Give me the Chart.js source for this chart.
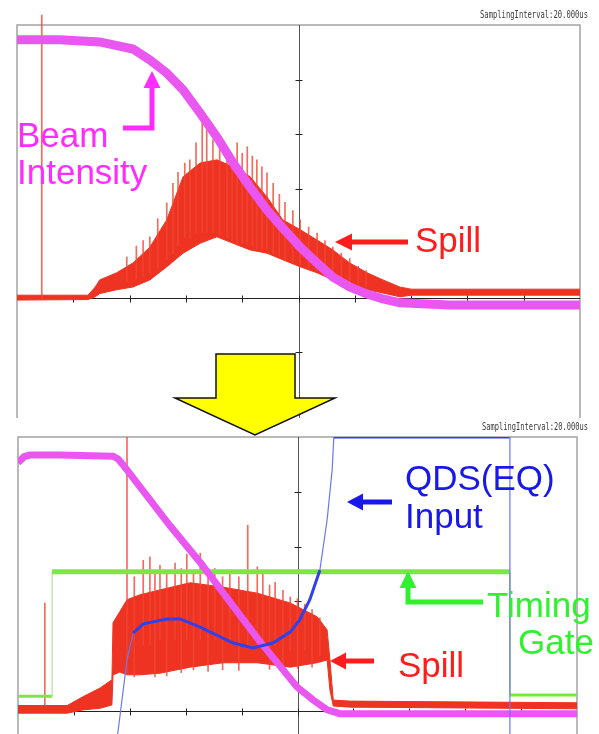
<!DOCTYPE html>
<html>
<head>
<meta charset="utf-8">
<script src="https://cdn.jsdelivr.net/npm/chart.js@4.4.1/dist/chart.umd.min.js"></script>
<style>
  html, body { margin: 0; padding: 0; background: #fff; }
  #wrap { position: relative; width: 599px; height: 734px; overflow: hidden; }
  canvas { position: absolute; left: 0; }
  #scopeTop { top: 0; }
  #scopeLow { top: 418px; }
</style>
</head>
<body>
<div id="wrap">
  <canvas id="scopeTop" width="599" height="418"></canvas>
  <canvas id="scopeLow" width="599" height="316"></canvas>
</div>
<script>
// all values in scope divisions (x: 0..10, y: centre line = 0)

// upper scope: before
const beamTopX = [0, 0.76, 1.47, 2.06, 2.36, 2.66, 2.95, 3.25, 3.55, 3.84, 4.14, 4.44, 4.72, 5.03, 5.33, 5.61, 5.91, 6.22, 6.50, 6.80, 7.69, 8.93, 10];
const beamTopY = [4.73, 4.73, 4.69, 4.56, 4.36, 4.12, 3.81, 3.39, 2.95, 2.47, 2.03, 1.61, 1.28, 0.93, 0.64, 0.38, 0.20, 0.07, -0.02, -0.09, -0.13, -0.13, -0.13];

const spillTopX  = [0, 1.26, 1.39, 1.47, 1.77, 2.06, 2.36, 2.66, 2.95, 3.25, 3.55, 3.84, 4.14, 4.44, 4.72, 5.03, 5.33, 5.61, 5.91, 6.22, 6.50, 6.80, 7.0, 10];
const spillTopHi = [0.05, 0.05, 0.2, 0.33, 0.46, 0.64, 0.93, 1.43, 2.22, 2.47, 2.53, 2.4, 2.22, 1.85, 1.43, 1.25, 1.06, 0.88, 0.64, 0.46, 0.33, 0.2, 0.16, 0.16];
const spillTopLo = [-0.04, -0.03, 0.02, 0.08, 0.15, 0.2, 0.33, 0.57, 0.82, 1.0, 1.12, 1.0, 0.88, 0.82, 0.7, 0.57, 0.46, 0.33, 0.2, 0.15, 0.09, 0.02, 0.05, 0.05];

const spikeTopX  = [0.44, 1.95, 2.12, 2.24, 2.36, 2.50, 2.66, 2.77, 2.86, 2.98, 3.07, 3.18, 3.29, 3.37, 3.48, 3.60, 3.73, 3.82, 3.91, 4.00, 4.09, 4.18, 4.26, 4.35, 4.44, 4.55, 4.66, 4.76, 4.90, 5.03, 5.18, 5.33, 5.47, 5.61, 5.76, 5.91, 6.06, 6.20];
const spikeTopLo = [0.0, 0.3, 0.35, 0.4, 0.45, 0.55, 0.7, 0.8, 0.95, 1.1, 1.1, 1.2, 1.2, 1.2, 1.2, 1.15, 1.1, 1.05, 1.0, 1.0, 1.0, 0.95, 0.9, 0.9, 0.9, 0.8, 0.75, 0.7, 0.65, 0.6, 0.55, 0.5, 0.45, 0.4, 0.35, 0.3, 0.25, 0.2];
const spikeTopHi = [5.18, 0.75, 0.95, 1.05, 1.12, 1.45, 1.74, 2.1, 2.3, 2.47, 2.53, 2.84, 3.26, 3.08, 2.9, 2.75, 2.71, 2.6, 2.84, 2.65, 2.77, 2.6, 2.53, 2.4, 2.29, 2.1, 1.9, 1.75, 1.6, 1.43, 1.3, 1.19, 1.05, 0.93, 0.82, 0.72, 0.58, 0.5];

// lower scope: after (with QDS input and timing gate)
const beamLowX = [0, 0.11, 0.21, 0.75, 1.70, 1.79, 1.88, 2.72, 3.26, 4.28, 4.99, 5.28, 5.53, 5.76, 10];
const beamLowY = [4.53, 4.64, 4.67, 4.67, 4.65, 4.6, 4.49, 3.38, 2.71, 1.33, 0.44, 0.2, 0.02, -0.05, -0.05];

const gateX = [0, 0.61, 0.61, 8.80, 8.80, 10];
const gateY = [0.27, 0.27, 2.54, 2.54, 0.29, 0.29];

const qdsX = [1.77, 1.86, 1.95, 2.06, 2.24, 2.67, 2.90, 3.26, 3.85, 4.20, 4.56, 4.87, 5.04, 5.22, 5.40, 5.53, 5.62, 5.65, 8.80, 8.80];
const qdsY = [-0.53, 0.2, 0.93, 1.42, 1.59, 1.68, 1.68, 1.53, 1.24, 1.15, 1.24, 1.44, 1.66, 2.03, 2.57, 3.49, 4.4, 5.0, 5.0, -0.53];

const spillLowX  = [0, 0.88, 1.16, 1.47, 1.68, 1.70, 1.82, 1.95, 2.18, 2.54, 3.08, 3.67, 4.28, 4.87, 5.35, 5.53, 5.58, 5.64, 5.94, 10];
const spillLowHi = [0.1, 0.1, 0.26, 0.42, 0.57, 1.61, 1.81, 2.03, 2.12, 2.21, 2.34, 2.26, 2.15, 1.97, 1.72, 1.48, 0.93, 0.2, 0.18, 0.15];
const spillLowLo = [-0.04, -0.04, 0.02, 0.05, 0.11, 0.66, 0.71, 0.66, 0.66, 0.69, 0.8, 0.88, 0.88, 0.8, 0.88, 0.93, 0.38, 0.09, 0.07, 0.04];

const spikeLowX  = [0.48, 1.95, 2.08, 2.24, 2.36, 2.45, 2.54, 2.66, 2.81, 2.92, 3.02, 3.14, 3.26, 3.40, 3.52, 3.66, 3.79, 3.95, 4.11, 4.28, 4.38, 4.50, 4.60, 4.74, 4.87, 5.00, 5.13, 5.26, 5.40];
const spikeLowLo = [0.1, 0.7, 0.62, 1.2, 1.2, 0.62, 1.3, 0.64, 1.3, 0.7, 1.3, 0.75, 1.3, 0.72, 1.3, 0.75, 1.3, 0.74, 1.2, 1.2, 1.2, 0.76, 1.2, 0.75, 1.1, 0.78, 1.1, 0.8, 1.0];
const spikeLowHi = [1.97, 5.0, 2.45, 2.75, 2.81, 2.5, 2.66, 2.55, 2.7, 2.6, 2.86, 2.55, 2.88, 2.5, 2.6, 2.45, 2.5, 2.45, 3.39, 2.63, 2.52, 2.3, 2.35, 2.2, 2.08, 2.05, 1.95, 1.85, 1.7];

const samplingText = 'SamplingInterval:20.000us';

const MAG = '#e957f0', MAG_TXT = '#ff2bff';
const RED = '#ee3322', RED_TXT = '#ff1c1c';
const BLUE = '#3040ea', BLUE_TXT = '#1818e8';
const GREEN = '#7be83c', GREEN_TXT = '#30f030';
const FONT = '35px "Liberation Sans", Arial, sans-serif';

const pts = (xs, ys) => xs.map((x, i) => ({ x: x, y: ys[i] }));
const bars = (xs, lo, hi) => xs.map((x, i) => ({ x: x, y: [lo[i], hi[i]] }));

// notes are in page pixels, each canvas draws the part that falls on it
const notes = [
  { text: 'Beam', x: 17, y: 147, color: MAG_TXT },
  { text: 'Intensity', x: 17, y: 184, color: MAG_TXT },
  { arrow: [[123, 128], [152, 128], [152, 88]], tip: [152, 71], color: MAG_TXT },
  { text: 'Spill', x: 415, y: 252, color: RED_TXT },
  { arrow: [[408, 242], [352, 242]], tip: [335, 242], color: RED_TXT },
  { small: samplingText, x: 480, y: 18, w: 108 },
  { text: 'QDS(EQ)', x: 405, y: 490, color: BLUE_TXT },
  { text: 'Input', x: 405, y: 528, color: BLUE_TXT },
  { arrow: [[392, 502], [363, 502]], tip: [347, 502], color: BLUE_TXT },
  { text: 'Timing', x: 487, y: 617, color: GREEN_TXT },
  { text: 'Gate', x: 518, y: 654, color: GREEN_TXT },
  { arrow: [[483, 602], [408, 602], [408, 588]], tip: [408, 571], color: GREEN_TXT },
  { text: 'Spill', x: 398, y: 677, color: RED_TXT },
  { arrow: [[374, 661], [346, 661]], tip: [330, 661], color: RED_TXT },
  { small: samplingText, x: 482, y: 430, w: 106 },
  { poly: [[216, 354], [295, 354], [295, 398], [335, 398], [255, 435], [175, 398], [216, 398]] }
];

const framePlugin = {
  id: 'frame',
  beforeDatasetsDraw(chart) {
    const { ctx, chartArea: a, scales: { x, y } } = chart;
    const cx = Math.round(x.getPixelForValue(5)) + 0.5;
    const cy = Math.round(y.getPixelForValue(0)) + 0.5;
    ctx.save();
    ctx.strokeStyle = '#a3a3a3';
    ctx.lineWidth = 1.5;
    ctx.beginPath();
    ctx.moveTo(a.left, a.bottom);
    ctx.lineTo(a.left, a.top);
    ctx.lineTo(a.right, a.top);
    ctx.lineTo(a.right, a.bottom);
    ctx.stroke();
    ctx.lineWidth = 1;
    ctx.strokeStyle = '#555';
    ctx.beginPath();
    ctx.moveTo(cx, a.top);
    ctx.lineTo(cx, a.bottom);
    ctx.stroke();
    ctx.strokeStyle = '#222';
    ctx.beginPath();
    ctx.moveTo(a.left, cy);
    ctx.lineTo(a.right, cy);
    for (let i = 1; i < 10; i++) {
      const px = Math.round(x.getPixelForValue(i)) + 0.5;
      ctx.moveTo(px, cy - 3);
      ctx.lineTo(px, cy + 4);
    }
    for (let j = Math.ceil(y.min); j < 5; j++) {
      if (j === 0) continue;
      const py = Math.round(y.getPixelForValue(j)) + 0.5;
      ctx.moveTo(cx - 4, py);
      ctx.lineTo(cx + 3, py);
    }
    ctx.stroke();
    ctx.restore();
  }
};

function drawArrow(ctx, n) {
  const p = n.arrow, last = p[p.length - 1];
  ctx.strokeStyle = n.color;
  ctx.fillStyle = n.color;
  ctx.lineWidth = 5;
  ctx.lineJoin = 'miter';
  ctx.beginPath();
  ctx.moveTo(p[0][0], p[0][1]);
  for (let i = 1; i < p.length; i++) ctx.lineTo(p[i][0], p[i][1]);
  ctx.stroke();
  const dx = n.tip[0] - last[0], dy = n.tip[1] - last[1];
  const len = Math.hypot(dx, dy), ux = -dy / len * 8.5, uy = dx / len * 8.5;
  ctx.beginPath();
  ctx.moveTo(n.tip[0], n.tip[1]);
  ctx.lineTo(last[0] + ux, last[1] + uy);
  ctx.lineTo(last[0] - ux, last[1] - uy);
  ctx.closePath();
  ctx.fill();
}

const notesPlugin = {
  id: 'notes',
  afterDraw(chart, args, opts) {
    const ctx = chart.ctx;
    ctx.save();
    ctx.translate(0, -opts.top);
    notes.forEach(n => {
      if (n.text) {
        ctx.font = FONT;
        ctx.fillStyle = n.color;
        ctx.textBaseline = 'alphabetic';
        ctx.fillText(n.text, n.x, n.y);
      } else if (n.small) {
        ctx.font = '11px "DejaVu Sans Mono", monospace';
        ctx.fillStyle = '#3a3a3a';
        ctx.textBaseline = 'alphabetic';
        ctx.fillText(n.small, n.x, n.y, n.w);
      } else if (n.arrow) {
        drawArrow(ctx, n);
      } else if (n.poly) {
        ctx.beginPath();
        n.poly.forEach((q, i) => i ? ctx.lineTo(q[0], q[1]) : ctx.moveTo(q[0], q[1]));
        ctx.closePath();
        ctx.fillStyle = '#ffff00';
        ctx.fill();
        ctx.strokeStyle = '#111';
        ctx.lineWidth = 1.5;
        ctx.stroke();
      }
    });
    ctx.restore();
  }
};

function line(data, color, width, order, extra) {
  return Object.assign({
    type: 'line', data: data, borderColor: color, backgroundColor: color,
    borderWidth: width, pointRadius: 0, tension: 0, fill: false, order: order
  }, extra || {});
}

function spikes(data, order, extra) {
  return Object.assign({
    type: 'bar', data: data, backgroundColor: 'rgba(240, 70, 50, 0.8)', barThickness: 1,
    grouped: false, order: order
  }, extra || {});
}

function makeScope(id, top, yMin, pad, datasets) {
  return new Chart(document.getElementById(id), {
    type: 'line',
    data: { datasets: datasets },
    options: {
      responsive: false,
      animation: false,
      devicePixelRatio: 1,
      layout: { padding: pad },
      plugins: { legend: { display: false }, tooltip: { enabled: false }, notes: { top: top } },
      scales: {
        x: { type: 'linear', min: 0, max: 10, offset: false, display: false },
        y: { type: 'linear', min: yMin, max: 5, display: false }
      }
    },
    plugins: [framePlugin, notesPlugin]
  });
}

makeScope('scopeTop', 0, -2.2, { left: 17, right: 19, top: 25, bottom: 0 }, [
  line(pts(spillTopX, spillTopHi), RED, 1, 6, { fill: '+1' }),
  line(pts(spillTopX, spillTopLo), RED, 1, 6),
  spikes(bars(spikeTopX, spikeTopLo, spikeTopHi), 5, { clip: false }),
  line(pts(beamTopX, beamTopY), MAG, 9, 2)
]);

makeScope('scopeLow', 418, -0.42, { left: 18, right: 22, top: 19, bottom: 0 }, [
  line(pts(spillLowX, spillLowHi), RED, 1, 6, { fill: '+1' }),
  line(pts(spillLowX, spillLowLo), RED, 1, 6),
  spikes(bars(spikeLowX, spikeLowLo, spikeLowHi), 5),
  line(pts(gateX, gateY), GREEN, 5, 3, {
    segment: {
      borderWidth: c => c.p0.parsed.x === c.p1.parsed.x ? 1 : (c.p0.parsed.y > 1 ? 5 : 3),
      borderColor: c => c.p0.parsed.x === c.p1.parsed.x ? '#a6d890' : GREEN
    }
  }),
  line(pts(beamLowX, beamLowY), MAG, 7, 2),
  line(pts(qdsX, qdsY), BLUE, 3, 1, {
    segment: {
      borderWidth: c => Math.abs(c.p1.y - c.p0.y) > 3 * Math.abs(c.p1.x - c.p0.x) ? 1.2 : 3,
      borderColor: c => Math.abs(c.p1.y - c.p0.y) > 3 * Math.abs(c.p1.x - c.p0.x) ? '#6878f0' : BLUE
    }
  })
]);
</script>
</body>
</html>
